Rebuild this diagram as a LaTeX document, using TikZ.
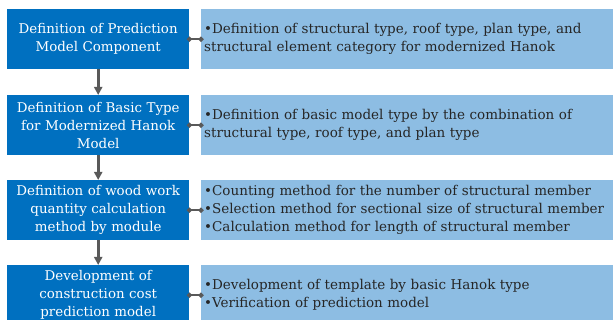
\documentclass[tikz,border=0pt]{standalone}
\usepackage{fontspec}
\setmainfont{DejaVu Serif}
\usetikzlibrary{arrows.meta}
\definecolor{dblue}{HTML}{0070C0}
\definecolor{lblue}{HTML}{8DBDE3}
\definecolor{cgray}{HTML}{595959}
\definecolor{tgray}{HTML}{262626}
\begin{document}
\begin{tikzpicture}[x=1pt,y=1pt,
  leftbox/.style={draw=none,fill=dblue,text=white,minimum width=182pt,minimum height=60pt,
    text width=180pt,align=center,inner sep=0pt,anchor=north west,
    font=\fontsize{13.4}{18}\selectfont},
  rightbox/.style={draw=none,fill=lblue,text=tgray,minimum width=420pt,minimum height=60pt,
    text width=414pt,align=left,inner xsep=3pt,inner ysep=0pt,anchor=north west,
    font=\fontsize{13.5}{18}\selectfont},
  conn/.style={cgray,line width=1.5pt,{Circle[length=5pt]}-{Circle[length=5pt]},shorten <=-2.5pt,shorten >=-2.5pt},
  flow/.style={cgray,line width=2.8pt,-{Triangle[length=8pt,width=8pt]}}]
\clip (0,0) rectangle (613,-320);
\node[leftbox] (L1) at (7,-9) {Definition of Prediction\\Model Component};
\node[leftbox] (L2) at (7,-95) {Definition of Basic Type\\for Modernized Hanok\\Model};
\node[leftbox] (L3) at (7,-180) {Definition of wood work\\quantity calculation\\method by module};
\node[leftbox] (L4) at (7,-265) {Development of\\construction cost\\prediction model};
\node[rightbox] (R1) at (201,-9) {\textbullet Definition of structural type, roof type, plan type, and\\structural element category for modernized Hanok};
\node[rightbox] (R2) at (201,-95) {\textbullet Definition of basic model type by the combination of\\structural type, roof type, and plan type};
\node[rightbox] (R3) at (201,-180) {\textbullet Counting method for the number of structural member\\\textbullet Selection method for sectional size of structural member\\\textbullet Calculation method for length of structural member};
\node[rightbox] (R4) at (201,-265) {\textbullet Development of template by basic Hanok type\\\textbullet Verification of prediction model};
\draw[flow] (L1) -- (L2);
\draw[flow] (L2) -- (L3);
\draw[flow] (L3) -- (L4);
\draw[conn] (L1) -- (R1);
\draw[conn] (L2) -- (R2);
\draw[conn] (L3) -- (R3);
\draw[conn] (L4) -- (R4);
\end{tikzpicture}
\end{document}
